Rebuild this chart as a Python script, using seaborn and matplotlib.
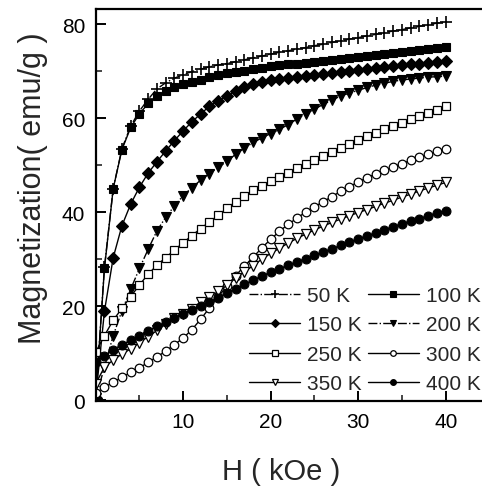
import matplotlib
matplotlib.use('Agg')
import matplotlib.pyplot as plt
import seaborn as sns

sns.set_theme(style='ticks')
plt.rcParams['font.family'] = ['Liberation Sans', 'DejaVu Sans']

# ---- data ----
H = list(range(41))  # kOe

m_50K = [0.5, 28.3, 45.0, 53.5, 58.3, 61.5, 64.0, 66.2, 67.5, 68.5, 69.2,
         69.9, 70.4, 70.9, 71.3, 71.6, 72.0, 72.4, 72.8, 73.2, 73.6,
         74.0, 74.3, 74.7, 75.0, 75.4, 75.7, 76.1, 76.4, 76.8, 77.1,
         77.5, 77.8, 78.2, 78.5, 78.8, 79.2, 79.5, 79.8, 80.2, 80.5]
m_100K = [0.5, 28.0, 45.0, 53.3, 58.0, 60.9, 63.1, 64.6, 65.8, 66.6, 67.3,
          67.7, 68.2, 68.7, 69.1, 69.5, 69.8, 70.1, 70.4, 70.7, 71.0,
          71.2, 71.4, 71.6, 71.8, 72.0, 72.2, 72.4, 72.6, 72.8, 73.0,
          73.3, 73.5, 73.7, 73.9, 74.1, 74.3, 74.5, 74.7, 75.0, 75.2]
m_150K = [0.5, 18.9, 30.3, 37.1, 41.7, 45.3, 48.3, 50.7, 53.0, 55.2, 57.3,
          59.2, 60.9, 62.5, 63.7, 64.7, 65.7, 66.5, 67.2, 67.7, 68.1,
          68.4, 68.6, 68.8, 69.0, 69.2, 69.4, 69.6, 69.8, 70.0, 70.2,
          70.4, 70.6, 70.8, 71.0, 71.2, 71.4, 71.6, 71.8, 72.0, 72.2]
m_200K = [0.5, 7.0, 13.7, 19.0, 23.6, 28.0, 32.1, 36.0, 38.9, 41.3, 43.5,
          45.2, 46.8, 48.2, 49.5, 50.8, 52.3, 53.6, 54.8, 55.8, 56.7,
          57.6, 58.6, 59.8, 60.9, 61.9, 62.9, 63.8, 64.7, 65.3, 65.9,
          66.5, 67.0, 67.4, 67.8, 68.1, 68.3, 68.5, 68.7, 68.8, 68.9]
m_250K = [10.2, 13.7, 17.0, 19.5, 22.0, 24.5, 26.8, 28.7, 30.3, 31.9, 33.5,
          35.0, 36.5, 37.9, 39.3, 40.8, 42.2, 43.5, 44.6, 45.6, 46.5,
          47.5, 48.4, 49.3, 50.2, 51.0, 51.9, 52.8, 53.6, 54.5, 55.3,
          56.2, 56.9, 57.6, 58.3, 59.0, 59.7, 60.4, 61.1, 61.8, 62.5]
m_300K = [1.5, 2.7, 3.8, 4.8, 5.9, 6.9, 8.0, 9.2, 10.4, 11.8, 13.2,
          15.0, 17.2, 19.6, 22.0, 24.3, 26.5, 28.5, 30.4, 32.4, 34.2,
          35.9, 37.4, 38.7, 40.0, 41.1, 42.2, 43.3, 44.4, 45.4, 46.4,
          47.3, 48.1, 48.9, 49.6, 50.3, 51.0, 51.7, 52.3, 52.9, 53.5]
m_350K = [3.5, 7.0, 8.5, 9.8, 10.9, 12.2, 13.5, 14.8, 16.2, 17.4, 18.3,
          19.4, 20.8, 21.9, 23.1, 24.4, 26.0, 27.3, 28.6, 30.0, 31.2,
          32.3, 33.4, 34.4, 35.3, 36.2, 37.0, 37.8, 38.5, 39.2, 39.9,
          40.5, 41.2, 41.9, 42.5, 43.2, 43.8, 44.5, 45.1, 45.7, 46.3]
m_400K = [8.0, 9.4, 10.7, 11.8, 12.7, 13.7, 14.7, 15.7, 16.6, 17.5, 18.4,
          19.2, 20.0, 20.9, 21.8, 22.8, 23.7, 24.6, 25.5, 26.4, 27.2,
          27.9, 28.7, 29.4, 30.1, 30.8, 31.5, 32.2, 32.9, 33.6, 34.3,
          34.9, 35.6, 36.2, 36.9, 37.5, 38.1, 38.6, 39.2, 39.8, 40.3]

labels = ['50 K', '100 K', '150 K', '200 K', '250 K', '300 K', '350 K', '400 K']
series = [m_50K, m_100K, m_150K, m_200K, m_250K, m_300K, m_350K, m_400K]

x_ticks = [10, 20, 30, 40]
y_ticks = [0, 20, 40, 60, 80]

# ---- styles ----
styles = [
    dict(marker='+', ms=9.0, mfc='black', mew=1.2, ls='-.'),
    dict(marker='s', ms=5.8, mfc='black', mew=0.8, ls='-'),
    dict(marker='D', ms=5.8, mfc='black', mew=0.8, ls='-'),
    dict(marker='v', ms=7.2, mfc='black', mew=0.8, ls='-.'),
    dict(marker='s', ms=5.8, mfc='white', mew=0.9, ls='-'),
    dict(marker='o', ms=6.2, mfc='white', mew=0.9, ls='-'),
    dict(marker='v', ms=7.2, mfc='white', mew=0.9, ls='-'),
    dict(marker='o', ms=6.4, mfc='black', mew=0.8, ls='-'),
]

W, Hpx = 482, 489
fig = plt.figure(figsize=(W / 100, Hpx / 100), dpi=100)
left_px, bottom_px, top_px = 95.7, 402, 10
ax = fig.add_axes([left_px / W, 1 - bottom_px / Hpx, 1 - left_px / W, (bottom_px - top_px) / Hpx])

for lab, vals, st in zip(labels, series, styles):
    sns.lineplot(x=H, y=vals, ax=ax, label=lab, color='black',
                 marker=st['marker'], markersize=st['ms'],
                 markerfacecolor=st['mfc'], markeredgecolor='black',
                 markeredgewidth=st['mew'], linestyle=st['ls'], linewidth=1.0)

ax.set_xlim(0, (W - left_px) / 8.75)
ax.set_ylim(-0.2, 83.2)
ax.set_xticks(x_ticks)
ax.set_xticks([5, 15, 25, 35], minor=True)
ax.set_yticks(y_ticks)
ax.set_yticks([10, 30, 50, 70], minor=True)
ax.tick_params(which='major', direction='in', length=7, width=1.4, labelsize=15,
               colors='black')
ax.tick_params(axis='y', which='major', pad=7.5)
ax.tick_params(axis='x', which='major', pad=8)
ax.tick_params(which='minor', direction='in', length=4, width=1.2)

for side in ['left', 'bottom', 'top']:
    ax.spines[side].set_linewidth(1.6)
    ax.spines[side].set_color('black')
ax.spines['right'].set_visible(False)

ax.set_ylabel('Magnetization( emu/g )', fontsize=22)
ax.set_xlabel('H ( kOe )', fontsize=21)
ax.yaxis.set_label_coords(-0.123, 0.545)
ax.xaxis.set_label_coords(0.48, -0.143)

handles, labs = ax.get_legend_handles_labels()
order = [0, 2, 4, 6, 1, 3, 5, 7]
ax.legend([handles[i] for i in order], [labs[i] for i in order], ncol=2,
          frameon=False, fontsize=15, handlelength=2.45, handletextpad=0.33,
          columnspacing=0.3, labelspacing=0.5, markerscale=0.65,
          loc='upper left', bbox_to_anchor=(249 / W, 1 - 287 / Hpx),
          bbox_transform=fig.transFigure, borderpad=0, borderaxespad=0)

fig.savefig('out.png', dpi=100)
